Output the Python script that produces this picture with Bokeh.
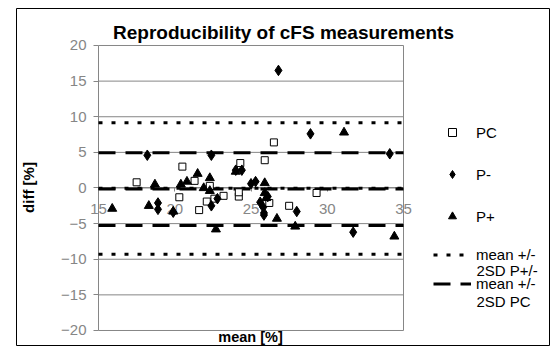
import math
from bokeh.plotting import figure
from bokeh.models import Range1d, Label, Legend, LegendItem, FixedTicker
from bokeh.embed import file_html
from bokeh.resources import INLINE

# ---- data ----
pc_x = [17.5, 20.5, 20.3, 21.3, 21.6, 22.1, 22.6, 22.3, 23.2, 24.2, 24.2, 24.3, 25.9, 26.2, 26.5, 27.5, 29.3]
pc_y = [0.8, 3.0, -1.3, 1.0, -3.1, -1.9, -1.5, 0.3, -1.1, -1.2, -0.6, 3.5, 3.9, -2.1, 6.4, -2.5, -0.7]

pm_x = [18.2, 18.9, 18.9, 19.9, 22.4, 22.4, 22.8, 24.0, 24.4, 25.0, 25.3, 25.6, 25.8, 25.85, 25.85, 26.1, 26.8, 28.0, 28.9, 31.7, 34.1]
pm_y = [4.6, -2.1, -3.0, -3.4, 4.6, -2.5, -1.5, 2.5, 2.5, 0.6, 0.9, -2.0, -2.7, -3.5, -3.8, -1.2, 16.5, -3.3, 7.6, -6.2, 4.8]

pp_x = [15.9, 18.3, 18.7, 19.9, 20.4, 20.8, 21.5, 21.9, 22.3, 22.3, 22.7, 24.0, 25.9, 25.9, 26.0, 26.7, 27.9, 31.1, 34.4]
pp_y = [-2.9, -2.5, 0.5, -3.3, 0.5, 0.9, 2.0, 0.0, 1.4, -0.4, -5.8, 2.3, 0.7, -0.7, -1.4, -4.3, -5.4, 7.8, -6.8]

levels_p = [9.15, -0.05, -9.3]     # mean +/- 2SD P+/-
levels_pc = [4.95, -0.15, -5.25]   # mean +/- 2SD PC

x_ticks = [15, 20, 25, 30, 35]
y_ticks = [-20, -15, -10, -5, 0, 5, 10, 15, 20]

FONT = "Liberation Sans"
GREY = "#868686"

# whole chart area is the frame (so that texts outside the plot area are not clipped)
p = figure(width=550, height=346,
           x_range=Range1d(9.623, 44.639), y_range=Range1d(-22.246, 25.193),
           min_border_left=16, min_border_right=0, min_border_top=8, min_border_bottom=0,
           output_backend="svg", toolbar_location=None)
p.outline_line_color = "black"
p.outline_line_width = 1
p.xgrid.visible = False
p.ygrid.visible = False

x0, x1 = x_ticks[0], x_ticks[-1]
y0, y1 = y_ticks[0], y_ticks[-1]

# axes (crossing inside the frame)
xa = p.xaxis[0]
xa.fixed_location = 0
xa.bounds = (x0, x1)
xa.level = "underlay"
xa.ticker = FixedTicker(ticks=x_ticks)
xa.axis_line_color = GREY
xa.major_tick_line_color = GREY
xa.major_tick_in = 0
xa.major_tick_out = 4
xa.minor_tick_line_color = None
xa.major_label_text_color = GREY
xa.major_label_text_font = FONT
xa.major_label_text_font_size = "15px"
xa.major_label_standoff = 12

ya = p.yaxis[0]
ya.fixed_location = x0
ya.bounds = (y0, y1)
ya.level = "underlay"
ya.ticker = FixedTicker(ticks=y_ticks)
ya.axis_line_color = GREY
ya.major_tick_line_color = GREY
ya.major_tick_in = 0
ya.major_tick_out = 5
ya.minor_tick_line_color = None
ya.major_label_text_color = GREY
ya.major_label_text_font = FONT
ya.major_label_text_font_size = "15px"
ya.major_label_standoff = 7

# plot-area gridlines and right border
p.segment(x0=[x0] * len(y_ticks), x1=[x1] * len(y_ticks), y0=y_ticks, y1=y_ticks,
          line_color=GREY, line_width=1)
p.segment(x0=[x1], x1=[x1], y0=[y0], y1=[y1], line_color=GREY, line_width=1)

# reference lines
span_x = [x0, x1]
dot_r = None
for v in levels_p:
    r = p.line(span_x, [v, v], line_color="black", line_width=3, line_dash="4 9")
    dot_r = dot_r or r
dash_r = None
for v in levels_pc:
    r = p.line(span_x, [v, v], line_color="black", line_width=3, line_dash="17 10")
    dash_r = dash_r or r

# points
r_pc = p.scatter(pc_x, pc_y, marker="square", size=7, fill_color="white", line_color="black", line_width=1)
r_pm = p.scatter(pm_x, pm_y, marker="diamond", size=10.5, fill_color="black", line_color="black")
r_pp = p.scatter(pp_x, pp_y, marker="triangle", size=9, fill_color="black", line_color="black")

# legends
def style_legend(lg):
    lg.padding = 0
    lg.margin = 0
    lg.border_line_color = None
    lg.background_fill_alpha = 0
    lg.glyph_width = 38
    lg.label_standoff = 5
    lg.label_text_font = FONT
    lg.label_text_font_size = "15px"
    lg.label_text_color = "black"

lg1 = Legend(items=[LegendItem(label="PC", renderers=[r_pc]),
                    LegendItem(label="P-", renderers=[r_pm]),
                    LegendItem(label="P+", renderers=[r_pp])],
             location=(417, 120))
style_legend(lg1)
lg1.glyph_height = 20
lg1.label_height = 20
lg1.spacing = 22
p.add_layout(lg1)

lg2 = Legend(items=[LegendItem(label="mean +/-", renderers=[dot_r]),
                    LegendItem(label="mean +/-", renderers=[dash_r])],
             location=(417, 54))
style_legend(lg2)
lg2.glyph_height = 17
lg2.label_height = 17
lg2.spacing = 12
p.add_layout(lg2)

for txt, yy in [("2SD P+/-", 76), ("2SD PC", 45)]:
    p.add_layout(Label(x=460, y=yy, x_units="screen", y_units="screen", text=txt,
                       text_align="left", text_baseline="middle",
                       text_font=FONT, text_font_size="15px", text_color="black"))

# titles
p.add_layout(Label(x=267, y=314, x_units="screen", y_units="screen",
                   text="Reproducibility of cFS measurements", text_align="center",
                   text_baseline="middle", text_font=FONT, text_font_size="19px",
                   text_font_style="bold", text_color="black"))
p.add_layout(Label(x=234, y=10, x_units="screen", y_units="screen", text="mean [%]",
                   text_align="center", text_baseline="middle", text_font=FONT,
                   text_font_size="14.5px", text_font_style="bold", text_color="black"))
p.add_layout(Label(x=12, y=159, x_units="screen", y_units="screen", text="diff [%]",
                   angle=math.pi / 2, text_align="center", text_baseline="middle",
                   text_font=FONT, text_font_size="15px", text_font_style="bold",
                   text_color="black"))

open("out.html", "w").write(file_html(p, INLINE))
